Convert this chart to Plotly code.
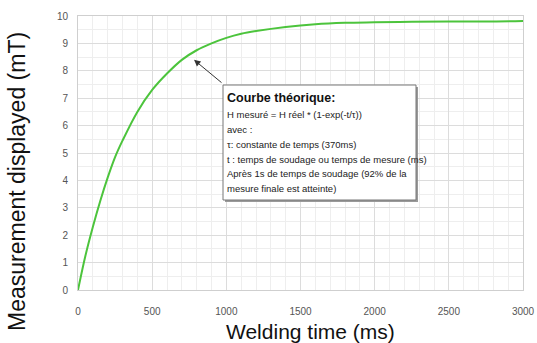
import plotly.graph_objects as go

# Data
welding_time = [0, 50, 100, 150, 200, 250, 300, 400, 500, 600, 700, 800, 900, 1000,
                1100, 1200, 1400, 1600, 1800, 2000, 2250, 2500, 2750, 3000]
measurement = [0, 1.25, 2.3, 3.25, 4.1, 4.85, 5.45, 6.5, 7.3, 7.9, 8.4, 8.75, 9.0, 9.2,
               9.35, 9.45, 9.6, 9.7, 9.75, 9.77, 9.79, 9.8, 9.8, 9.82]

x_ticks = [0, 500, 1000, 1500, 2000, 2500, 3000]
y_ticks = list(range(0, 11))

note_title = "Courbe théorique:"
note_lines = [
    "H mesuré = H réel * (1-exp(-t/τ))",
    "avec :",
    "τ: constante de temps (370ms)",
    "t : temps de soudage ou temps de mesure (ms)",
    "Après 1s de temps de soudage (92% de la",
    "mesure finale est atteinte)",
]
arrow_target = (782, 8.4)

W, H = 537, 343
L, R, T, B = 78, 523, 16, 290


def px(xp):
    return (xp - L) / (R - L)


def py(yp):
    return (B - yp) / (B - T)


fig = go.Figure()
fig.add_trace(go.Scatter(x=welding_time, y=measurement, mode="lines",
                         line=dict(color="#4cc43c", width=2, shape="spline"),
                         showlegend=False))

tickfont = dict(family="Liberation Sans Narrow, Arial Narrow, Liberation Sans, Arial", size=10, color="#555555")

fig.update_xaxes(range=[0, 3000], tickvals=x_ticks, ticktext=[str(v) for v in x_ticks],
                 showgrid=True, gridcolor="#dcdcdc", gridwidth=1,
                 minor=dict(dtick=100, showgrid=True, gridcolor="#eeeeee"),
                 zeroline=False, showline=True, linecolor="#cfcfcf", mirror=True,
                 ticks="", ticklabelstandoff=12, tickfont=tickfont, automargin=False)
fig.update_yaxes(range=[0, 10], tickvals=y_ticks, ticktext=[str(v) for v in y_ticks],
                 showgrid=True, gridcolor="#dcdcdc", gridwidth=1,
                 minor=dict(dtick=0.5, showgrid=True, gridcolor="#eeeeee"),
                 zeroline=False, showline=True, linecolor="#cfcfcf", mirror=True,
                 ticks="", ticklabelstandoff=7, tickfont=tickfont, automargin=False)

# note box with shadow
bx0, by0, bx1, by1 = 223, 85, 416, 200
fig.add_shape(type="rect", xref="paper", yref="paper",
              x0=px(bx0 + 2), x1=px(bx1 + 2), y0=py(by1 + 2), y1=py(by0 + 2),
              line=dict(width=0), fillcolor="#9a9a9a")
fig.add_shape(type="rect", xref="paper", yref="paper",
              x0=px(bx0), x1=px(bx1), y0=py(by1), y1=py(by0),
              line=dict(width=1, color="#777777"), fillcolor="white")

fig.add_annotation(xref="paper", yref="paper", x=px(bx0 + 2), y=py(98),
                   xanchor="left", yanchor="middle", showarrow=False,
                   text="<b>" + note_title + "</b>",
                   font=dict(family="Liberation Sans Narrow, Arial Narrow, Liberation Sans", size=12.5, color="#111111"))
for i, line in enumerate(note_lines):
    fig.add_annotation(xref="paper", yref="paper", x=px(bx0 + 2), y=py(115 + 14.7 * i),
                       xanchor="left", yanchor="middle", showarrow=False, text=line,
                       font=dict(family="Liberation Sans Narrow, Arial Narrow, Liberation Sans", size=9.5, color="#222222"))

# arrow
fig.add_annotation(x=arrow_target[0], y=arrow_target[1], xref="x", yref="y",
                   ax=29, ay=24, text="", showarrow=True, arrowhead=2, arrowsize=1.3,
                   arrowwidth=1, arrowcolor="#333333")

# axis titles
fig.add_annotation(xref="paper", yref="paper", x=px(310), y=py(331), text="Welding time (ms)",
                   showarrow=False, xanchor="center", yanchor="middle",
                   font=dict(family="Liberation Sans, Arial", size=21, color="#111111"))
fig.add_annotation(xref="paper", yref="paper", x=px(17), y=py(182), text="Measurement displayed (mT)",
                   showarrow=False, xanchor="center", yanchor="middle", textangle=-90,
                   font=dict(family="Liberation Sans, Arial", size=23, color="#111111"))

fig.update_layout(width=W, height=H, margin=dict(l=L, r=W - R, t=T, b=H - B),
                  paper_bgcolor="white", plot_bgcolor="white")
fig.write_html("out.html")
